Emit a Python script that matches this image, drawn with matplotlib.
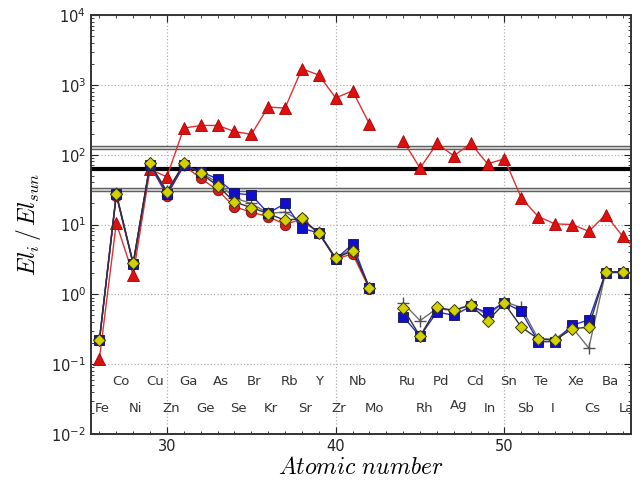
import numpy as np
import matplotlib
matplotlib.use("Agg")
import matplotlib.pyplot as plt
import matplotlib.patheffects as pe
from matplotlib.ticker import MultipleLocator, LogLocator, NullFormatter

# Atomic numbers (Tc, Z=43, has no data)
Z = np.arange(26, 58)
symbols = ["Fe", "Co", "Ni", "Cu", "Zn", "Ga", "Ge", "As", "Se", "Br", "Kr",
           "Rb", "Sr", "Y", "Zr", "Nb", "Mo", "", "Ru", "Rh", "Pd", "Ag",
           "Cd", "In", "Sn", "Sb", "Te", "I", "Xe", "Cs", "Ba", "La"]
nan = np.nan

# Abundance ratios El_i / El_sun for each model
triangles = [0.12, 10.5, 1.9, 62, 48, 240, 262, 262, 215, 195, 480,
             465, 1700, 1380, 650, 820, 275, nan, 158, 64, 145, 96,
             145, 74, 87, 24, 13, 10.2, 10, 8, 13.8, 6.8]
triangle_tail_Z = [57, 58]
triangle_tail = [6.8, 3.9]

circles = [0.22, 26, 2.7, 70, 26, 70, 46, 31, 18, 15, 13,
           10, 12, 7.5, 3.2, 3.8, 1.2, nan, nan, nan, nan, nan,
           nan, nan, nan, nan, nan, nan, nan, nan, nan, nan]

squares = [0.22, 27, 2.7, 72, 27, 70, 57, 45, 28, 26.5, 14.5,
           20, 8.8, 7.6, 3.2, 5.2, 1.22, nan, 0.48, 0.25, 0.56, 0.50,
           0.67, 0.55, 0.76, 0.57, 0.21, 0.21, 0.36, 0.43, 2.05, 2.05]

diamonds = [0.22, 27, 2.8, 75, 29, 75, 54, 36, 21, 17.5, 14.3,
            11.5, 12.2, 7.5, 3.3, 4.2, 1.25, nan, 0.63, 0.25, 0.65, 0.59,
            0.70, 0.42, 0.74, 0.34, 0.23, 0.22, 0.32, 0.34, 2.1, 2.1]

crosses = [0.23, 28, 2.8, 75, 30, 72, 55, 40, 24, 20, 14.5,
           15, 11, 7.8, 3.3, 4.5, 1.25, nan, 0.75, 0.42, 0.63, 0.58,
           0.72, 0.50, 0.78, 0.65, 0.23, 0.23, 0.34, 0.17, 2.1, 2.1]

# Reference level and its factor-of-two band
band_center = 62
band_factor = 2

fig = plt.figure(figsize=(6.4, 4.8), dpi=100)
ax = fig.add_axes([91 / 640, 1 - 434 / 480, 540 / 640, 419 / 480])

ax.set_yscale("log")
ax.set_xlim(25.5, 57.5)
ax.set_ylim(1e-2, 1e4)

ax.grid(True, which="major", linestyle=":", color="#b0b0b0", linewidth=0.9)
ax.set_axisbelow(True)

# Horizontal reference lines
ax.axhline(band_center, color="black", linewidth=3.0, zorder=2)
for lvl in (band_center * band_factor, band_center / band_factor):
    ax.axhline(lvl, color="#c8c8c8", linewidth=1.4, zorder=2,
               path_effects=[pe.Stroke(linewidth=3.2, foreground="#606060"),
                             pe.Normal()])

ax.plot(triangle_tail_Z, triangle_tail, color="#e03030", linewidth=1.0, zorder=3)
ax.plot(Z, triangles, color="#e03030", linewidth=1.0, marker="^",
        markersize=8, markerfacecolor="#dd1010", markeredgecolor="#aa0000",
        markeredgewidth=0.6, zorder=3)
ax.plot(Z, crosses, color="#707070", linewidth=1.0, marker="+",
        markersize=8, markeredgecolor="#505050", markeredgewidth=1.0, zorder=4)
ax.plot(Z, circles, color="#e03030", linewidth=1.0, marker="o",
        markersize=7.5, markerfacecolor="#dd1a1a", markeredgecolor="#661111",
        markeredgewidth=0.6, zorder=5)
ax.plot(Z, squares, color="#2a2ad0", linewidth=1.0, marker="s",
        markersize=7, markerfacecolor="#1010cc", markeredgecolor="#101050",
        markeredgewidth=0.6, zorder=6)
ax.plot(Z, diamonds, color="#303030", linewidth=1.0, marker="D",
        markersize=6.5, markerfacecolor="#d2d200", markeredgecolor="#3a3a00",
        markeredgewidth=0.7, zorder=7)

# Element symbols in two staggered rows
row_y = (0.023, 0.057)
k = 0
for z, s in zip(Z, symbols):
    if not s:
        continue
    yy = row_y[k % 2]
    if s == "Ag":
        yy *= 1.12
    ax.text(z - 0.25, yy, s, ha="left", va="center", fontsize=9.5,
            color="#333333", zorder=8, clip_on=True)
    k += 1

ax.xaxis.set_major_locator(MultipleLocator(10))
ax.xaxis.set_minor_locator(MultipleLocator(1))
ax.yaxis.set_major_locator(LogLocator(base=10, numticks=10))
ax.yaxis.set_minor_locator(LogLocator(base=10, subs=np.arange(2, 10), numticks=20))
ax.yaxis.set_minor_formatter(NullFormatter())
ax.tick_params(which="both", direction="in", top=True, right=True,
               labelsize=10.5, colors="#222222")
ax.tick_params(which="major", length=5, width=0.8)
ax.tick_params(which="minor", length=2.5, width=0.6)
for sp in ax.spines.values():
    sp.set_linewidth(1.4)
    sp.set_color("#333333")

ax.set_xlabel(r"$Atomic\ number$", fontsize=17, math_fontfamily="cm",
              labelpad=1)
ax.set_ylabel(r"$El_i\,/\,El_{sun}$", fontsize=17, math_fontfamily="cm",
              labelpad=6)

fig.savefig("out.png", dpi=100)
